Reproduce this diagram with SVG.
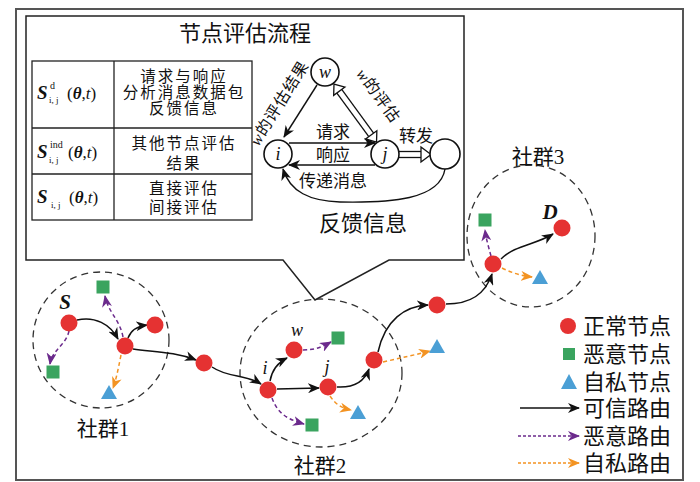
<svg xmlns="http://www.w3.org/2000/svg" width="700" height="482" viewBox="0 0 700 482">
<style>
.t{font-family:"Liberation Serif","Noto Sans CJK SC",serif;fill:#111}
.c{text-anchor:middle}
.tb{font-size:15.5px;letter-spacing:2px}
.m{font-family:"Liberation Serif",serif;fill:#111}
.bi{font-weight:bold;font-style:italic}
.it{font-style:italic}
.node{fill:#e53232}
.mal{fill:#3aa45f}
.sel{fill:#4b9fd5}
.comm{fill:none;stroke:#333;stroke-width:1.3;stroke-dasharray:7 5}
.tr{fill:none;stroke:#111;stroke-width:1.5;marker-end:url(#ab)}
.ml{fill:none;stroke:#6b2a8c;stroke-width:1.5;stroke-dasharray:4 3;marker-end:url(#ap)}
.sf{fill:none;stroke:#f39322;stroke-width:1.5;stroke-dasharray:4 3;marker-end:url(#ao)}
.sc{fill:#fff;stroke:#111;stroke-width:1.6}
.sa{fill:none;stroke:#111;stroke-width:1.4;marker-end:url(#ab)}
</style>
<defs>
<marker id="ab" markerUnits="userSpaceOnUse" markerWidth="13" markerHeight="10" refX="11" refY="5" orient="auto"><path d="M0,0 L12,5 L0,10 L3.5,5 Z" fill="#111"/></marker>
<marker id="ap" markerUnits="userSpaceOnUse" markerWidth="13" markerHeight="10" refX="11" refY="5" orient="auto"><path d="M0,0 L12,5 L0,10 L3.5,5 Z" fill="#6b2a8c"/></marker>
<marker id="ao" markerUnits="userSpaceOnUse" markerWidth="13" markerHeight="10" refX="11" refY="5" orient="auto"><path d="M0,0 L12,5 L0,10 L3.5,5 Z" fill="#f39322"/></marker>
</defs>
<rect x="0" y="0" width="700" height="482" fill="#fff"/>
<rect x="16" y="9" width="667" height="471" fill="none" stroke="#555" stroke-width="2"/>

<!-- communities -->
<g id="communities">
<circle class="comm" cx="101" cy="340" r="68"/>
<ellipse class="comm" cx="321" cy="373" rx="81" ry="74"/>
<ellipse class="comm" cx="531" cy="236" rx="64" ry="71"/>
<text class="t c" x="103" y="436" font-size="21">社群1</text>
<text class="t c" x="320" y="473" font-size="21">社群2</text>
<text class="t c" x="538" y="164" font-size="21">社群3</text>
</g>

<!-- callout -->
<g id="callout">
<path d="M26,16 H464 V260 H389 L315,300 L283,260 H26 Z" fill="#fff" stroke="#222" stroke-width="1.5"/>
<text class="t c" x="245" y="41" font-size="22">节点评估流程</text>
</g>

<g id="table">
<rect x="32" y="61" width="220" height="159" fill="none" stroke="#222" stroke-width="1.3"/>
<line x1="32" y1="128" x2="252" y2="128" stroke="#222" stroke-width="1.3"/>
<line x1="32" y1="174" x2="252" y2="174" stroke="#222" stroke-width="1.3"/>
<line x1="114" y1="61" x2="114" y2="220" stroke="#222" stroke-width="1.3"/>
<text class="m bi" x="37" y="99" font-size="19">S</text>
<text class="m" x="50" y="89" font-size="10">d</text>
<text class="m" x="49" y="103" font-size="9">i, j</text>
<text class="m" x="67" y="99" font-size="17">(<tspan class="bi">θ</tspan>,<tspan class="it">t</tspan>)</text>
<text class="m bi" x="37" y="158" font-size="19">S</text>
<text class="m" x="50" y="148" font-size="10">ind</text>
<text class="m" x="49" y="163" font-size="9">i, j</text>
<text class="m" x="68" y="158" font-size="17">(<tspan class="bi">θ</tspan>,<tspan class="it">t</tspan>)</text>
<text class="m bi" x="37" y="203" font-size="19">S</text>
<text class="m" x="51" y="208" font-size="9">i, j</text>
<text class="m" x="69" y="203" font-size="17">(<tspan class="bi">θ</tspan>,<tspan class="it">t</tspan>)</text>
<text class="t c tb" x="184" y="82">请求与响应</text>
<text class="t c tb" x="184" y="98">分析消息数据包</text>
<text class="t c tb" x="184" y="114">反馈信息</text>
<text class="t c tb" x="184" y="149">其他节点评估</text>
<text class="t c tb" x="184" y="169">结果</text>
<text class="t c tb" x="184" y="194">直接评估</text>
<text class="t c tb" x="184" y="213">间接评估</text>
</g>

<!-- state diagram -->
<g id="flow-edges">
<path class="sa" d="M317,85 L284,137"/>
<path class="sa" d="M289,143 L375,143"/>
<path class="sa" d="M375,165 L289,165"/>
<path class="sa" d="M445,169 C440,200 390,203 340,202 C310,201 290,192 283,169"/>
<g transform="translate(334,84) rotate(53.8)">
<line x1="9" y1="-3" x2="63" y2="-3" stroke="#111" stroke-width="1.3"/>
<line x1="9" y1="3" x2="63" y2="3" stroke="#111" stroke-width="1.3"/>
<path d="M9,-7 L0,0 L9,7 Z" fill="#fff" stroke="#111" stroke-width="1.3" stroke-linejoin="miter"/>
<path d="M63,-7 L72,0 L63,7 Z" fill="#fff" stroke="#111" stroke-width="1.3"/>
</g>
<line x1="399" y1="151.5" x2="421" y2="151.5" stroke="#111" stroke-width="1.3"/>
<line x1="399" y1="157.5" x2="421" y2="157.5" stroke="#111" stroke-width="1.3"/>
<path d="M421,147 L431,154.5 L421,162 Z" fill="#fff" stroke="#111" stroke-width="1.3"/>
<text class="t c" x="333" y="138" font-size="17">请求</text>
<text class="t c" x="333" y="161" font-size="17">响应</text>
<text class="t c" x="333" y="187" font-size="17">传递消息</text>
<text class="t c" x="416" y="142" font-size="17">转发</text>
<text class="t c" x="363" y="231" font-size="22">反馈信息</text>
<text class="t c" transform="translate(284,106) rotate(-58)" font-size="16" letter-spacing="1"><tspan class="it">w</tspan>的评估结果</text>
<text class="t c" transform="translate(374,99) rotate(54)" font-size="16" letter-spacing="1"><tspan class="it">w</tspan>的评估</text>
</g>
<g id="flow-w"><circle class="sc" cx="325" cy="72" r="14"/><text class="m it c" x="325" y="78" font-size="18">w</text></g>
<g id="flow-i"><circle class="sc" cx="278" cy="154" r="14"/><text class="m it c" x="278" y="160" font-size="18">i</text></g>
<g id="flow-j"><circle class="sc" cx="385" cy="154" r="14"/><text class="m it c" x="385" y="160" font-size="18">j</text></g>
<g id="flow-k"><circle class="sc" cx="445" cy="154" r="15"/></g>

<!-- network connectors -->
<g id="connectors">
<path class="tr" d="M77,320 C95,316 110,324 118,339"/>
<path class="tr" d="M128,338 C131,330 138,326 147,325"/>
<path class="tr" d="M133,349 C155,352 175,352 196,360"/>
<path class="ml" d="M123,337 C120,320 108,312 105,296"/>
<path class="ml" d="M69,331 C66,345 52,350 50,364"/>
<path class="sf" d="M121,355 C118,370 116,380 113,388"/>
<path class="tr" d="M212,367 C228,378 245,374 261,384"/>
<path class="tr" d="M270,381 C272,370 279,362 287,358"/>
<path class="tr" d="M277,389 L319,388"/>
<path class="tr" d="M337,387 C355,388 365,380 369,369"/>
<path class="tr" d="M378,352 C385,320 405,306 428,305"/>
<path class="ml" d="M303,350 C315,350 322,347 331,342"/>
<path class="ml" d="M272,398 C278,415 290,420 304,424"/>
<path class="sf" d="M330,396 C336,405 342,408 351,410"/>
<path class="sf" d="M383,362 C400,358 415,355 430,351"/>
<path class="tr" d="M446,304 C470,304 485,295 492,274"/>
<path class="tr" d="M501,259 C515,245 535,245 553,234"/>
<path class="ml" d="M491,256 C488,245 486,238 485,230"/>
<path class="sf" d="M502,268 C512,273 522,276 532,277"/>
</g>

<!-- nodes -->
<g id="c1-S"><circle class="node" cx="69" cy="323" r="8.5"/><text class="m bi c" x="65" y="309" font-size="21">S</text></g>
<g id="c1-a"><circle class="node" cx="125" cy="346" r="8.5"/></g>
<g id="c1-b"><circle class="node" cx="155" cy="325" r="8.5"/></g>
<g id="c1-m1"><rect class="mal" x="96.5" y="280.5" width="13" height="13"/></g>
<g id="c1-m2"><rect class="mal" x="46.5" y="365.5" width="13" height="13"/></g>
<g id="c1-s1"><polygon class="sel" points="109,385 101,399 117,399"/></g>
<g id="relay1"><circle class="node" cx="204" cy="363" r="8.5"/></g>
<g id="c2-i"><circle class="node" cx="268" cy="390" r="8.5"/><text class="m it c" x="265" y="374" font-size="18">i</text></g>
<g id="c2-w"><circle class="node" cx="294" cy="350" r="8.5"/><text class="m it c" x="297" y="336" font-size="18">w</text></g>
<g id="c2-j"><circle class="node" cx="328" cy="387" r="8.5"/><text class="m it c" x="327" y="373" font-size="18">j</text></g>
<g id="c2-m1"><rect class="mal" x="331.5" y="331.5" width="13" height="13"/></g>
<g id="c2-m2"><rect class="mal" x="305.5" y="418.5" width="13" height="13"/></g>
<g id="c2-s1"><polygon class="sel" points="358,405 350,419 366,419"/></g>
<g id="c2-r"><circle class="node" cx="374" cy="360" r="8.5"/></g>
<g id="c2-s2"><polygon class="sel" points="437,339 429,353 445,353"/></g>
<g id="relay2"><circle class="node" cx="437" cy="305" r="8.5"/></g>
<g id="c3-a"><circle class="node" cx="493" cy="264" r="8.5"/></g>
<g id="c3-D"><circle class="node" cx="562" cy="228" r="8.5"/><text class="m bi c" x="550" y="219" font-size="21">D</text></g>
<g id="c3-m1"><rect class="mal" x="478.5" y="213.5" width="13" height="13"/></g>
<g id="c3-s1"><polygon class="sel" points="540,270 532,284 548,284"/></g>

<!-- legend -->
<g id="legend">
<circle class="node" cx="568" cy="326" r="8"/>
<rect class="mal" x="563" y="348" width="12" height="12"/>
<polygon class="sel" points="569,374 561,389 577,389"/>
<path d="M520,408 L579,408" fill="none" stroke="#111" stroke-width="1.4" marker-end="url(#ab)"/>
<path d="M518,436 L579,436" fill="none" stroke="#6b2a8c" stroke-width="1.4" stroke-dasharray="3 2" marker-end="url(#ap)"/>
<path d="M518,463 L579,463" fill="none" stroke="#f39322" stroke-width="1.4" stroke-dasharray="3 2" marker-end="url(#ao)"/>
<text class="t" x="583" y="334" font-size="22">正常节点</text>
<text class="t" x="583" y="362" font-size="22">恶意节点</text>
<text class="t" x="583" y="390" font-size="22">自私节点</text>
<text class="t" x="583" y="416" font-size="22">可信路由</text>
<text class="t" x="583" y="444" font-size="22">恶意路由</text>
<text class="t" x="583" y="471" font-size="22">自私路由</text>
</g>
</svg>
